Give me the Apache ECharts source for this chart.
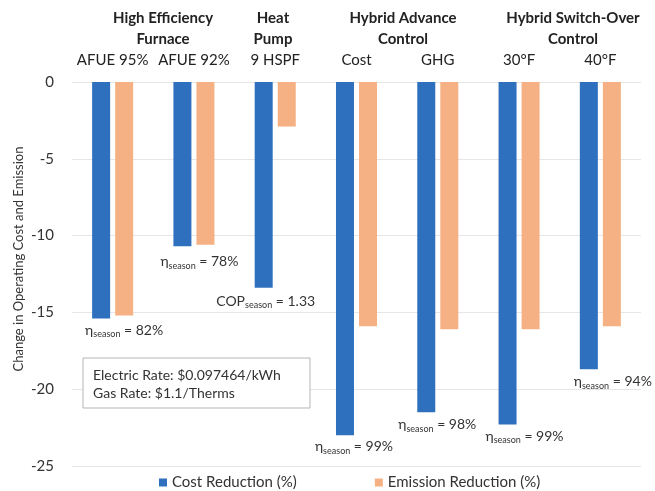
<!DOCTYPE html>
<html><head><meta charset="utf-8">
<script src="https://cdn.jsdelivr.net/npm/echarts@6/dist/echarts.min.js"></script>
<style>html,body{margin:0;padding:0;background:#fff}#c{width:655px;height:491px}</style>
</head><body><div id="c"></div>
<script>
const categories = ['AFUE 95%', 'AFUE 92%', '9 HSPF', 'Cost', 'GHG', '30°F', '40°F'];
const costReduction = [-15.4, -10.7, -13.4, -23.0, -21.5, -22.3, -18.7];
const emissionReduction = [-15.2, -10.6, -2.9, -15.9, -16.1, -16.1, -15.9];
const efficiencyNames = ['η', 'η', 'COP', 'η', 'η', 'η', 'η'];
const efficiencyValues = ['82%', '78%', '1.33', '99%', '98%', '99%', '94%'];
const groupHeaders = ['High Efficiency\nFurnace', 'Heat\nPump', 'Hybrid Advance\nControl', 'Hybrid Switch-Over\nControl'];
const yTicks = [0, -5, -10, -15, -20, -25];
const yTitle = 'Change in Operating Cost and Emission';
const rateNote = 'Electric Rate: $0.097464/kWh\nGas Rate: $1.1/Therms';

const FONT = 'Lato';
const labelOffsets = [[23, 1], [17, 5], [2, 3], [9, 1], [11, 2], [17, 1], [24, 2]];
const headerX = [163, 273, 403, 573];

const chart = echarts.init(document.getElementById('c'));
chart.setOption({
  animation: false,
  textStyle: { fontFamily: FONT },
  grid: { left: 72, right: 14, top: 82, bottom: 25 },
  legend: {
    top: 470, left: 154, itemGap: 78, itemWidth: 8, itemHeight: 8,
    textStyle: { fontSize: 15, color: '#333', fontFamily: FONT },
    data: [{ name: 'Cost Reduction (%)', icon: 'rect' }, { name: 'Emission Reduction (%)', icon: 'rect' }]
  },
  xAxis: {
    type: 'category', data: categories, position: 'top',
    axisLine: { show: false }, axisTick: { show: false },
    axisLabel: { interval: 0, fontSize: 15, color: '#222', margin: 14, fontFamily: FONT }
  },
  yAxis: {
    type: 'value', min: -25, max: 0, interval: 5,
    axisLine: { show: false }, axisTick: { show: false },
    axisLabel: { fontSize: 15, color: '#333', margin: 18, fontFamily: FONT },
    splitLine: { show: true, lineStyle: { color: '#e6e6e6' } }
  },
  series: [
    {
      name: 'Cost Reduction (%)', type: 'bar', barWidth: 18, barGap: '28%',
      itemStyle: { color: '#2E70BD' },
      data: costReduction.map((v, i) => ({
        value: v,
        label: {
          show: true, position: 'bottom', distance: 2, offset: labelOffsets[i],
          formatter: () => '{m|' + efficiencyNames[i] + '}{s|season}{m| = ' + efficiencyValues[i] + '}',
          rich: {
            m: { fontSize: 14, color: '#333', fontFamily: FONT },
            s: { fontSize: 9, color: '#333', fontFamily: FONT, padding: [8, 0, 0, 0] }
          }
        }
      }))
    },
    {
      name: 'Emission Reduction (%)', type: 'bar', barWidth: 18,
      itemStyle: { color: '#F5B183' },
      data: emissionReduction
    }
  ],
  graphic: groupHeaders.map((t, i) => ({
    type: 'text', x: headerX[i], y: 8, z: 100,
    style: { text: t, font: 'bold 15px ' + FONT, fill: '#222', textAlign: 'center', lineHeight: 21 }
  })).concat([
    {
      type: 'text', x: 19, y: 259, rotation: Math.PI / 2, z: 100,
      style: { text: yTitle, font: '13px ' + FONT, fill: '#333', textAlign: 'center', textVerticalAlign: 'middle' }
    },
    {
      type: 'group', x: 83, y: 358, z: 100,
      children: [
        { type: 'rect', z: 100, shape: { x: 0, y: 0, width: 227, height: 50 }, style: { fill: '#fff', stroke: '#b5b5b5', lineWidth: 1 } },
        { type: 'text', z: 101, x: 10, y: 8, style: { text: rateNote, font: '14px ' + FONT, fill: '#333', lineHeight: 18 } }
      ]
    }
  ])
});
</script></body></html>
